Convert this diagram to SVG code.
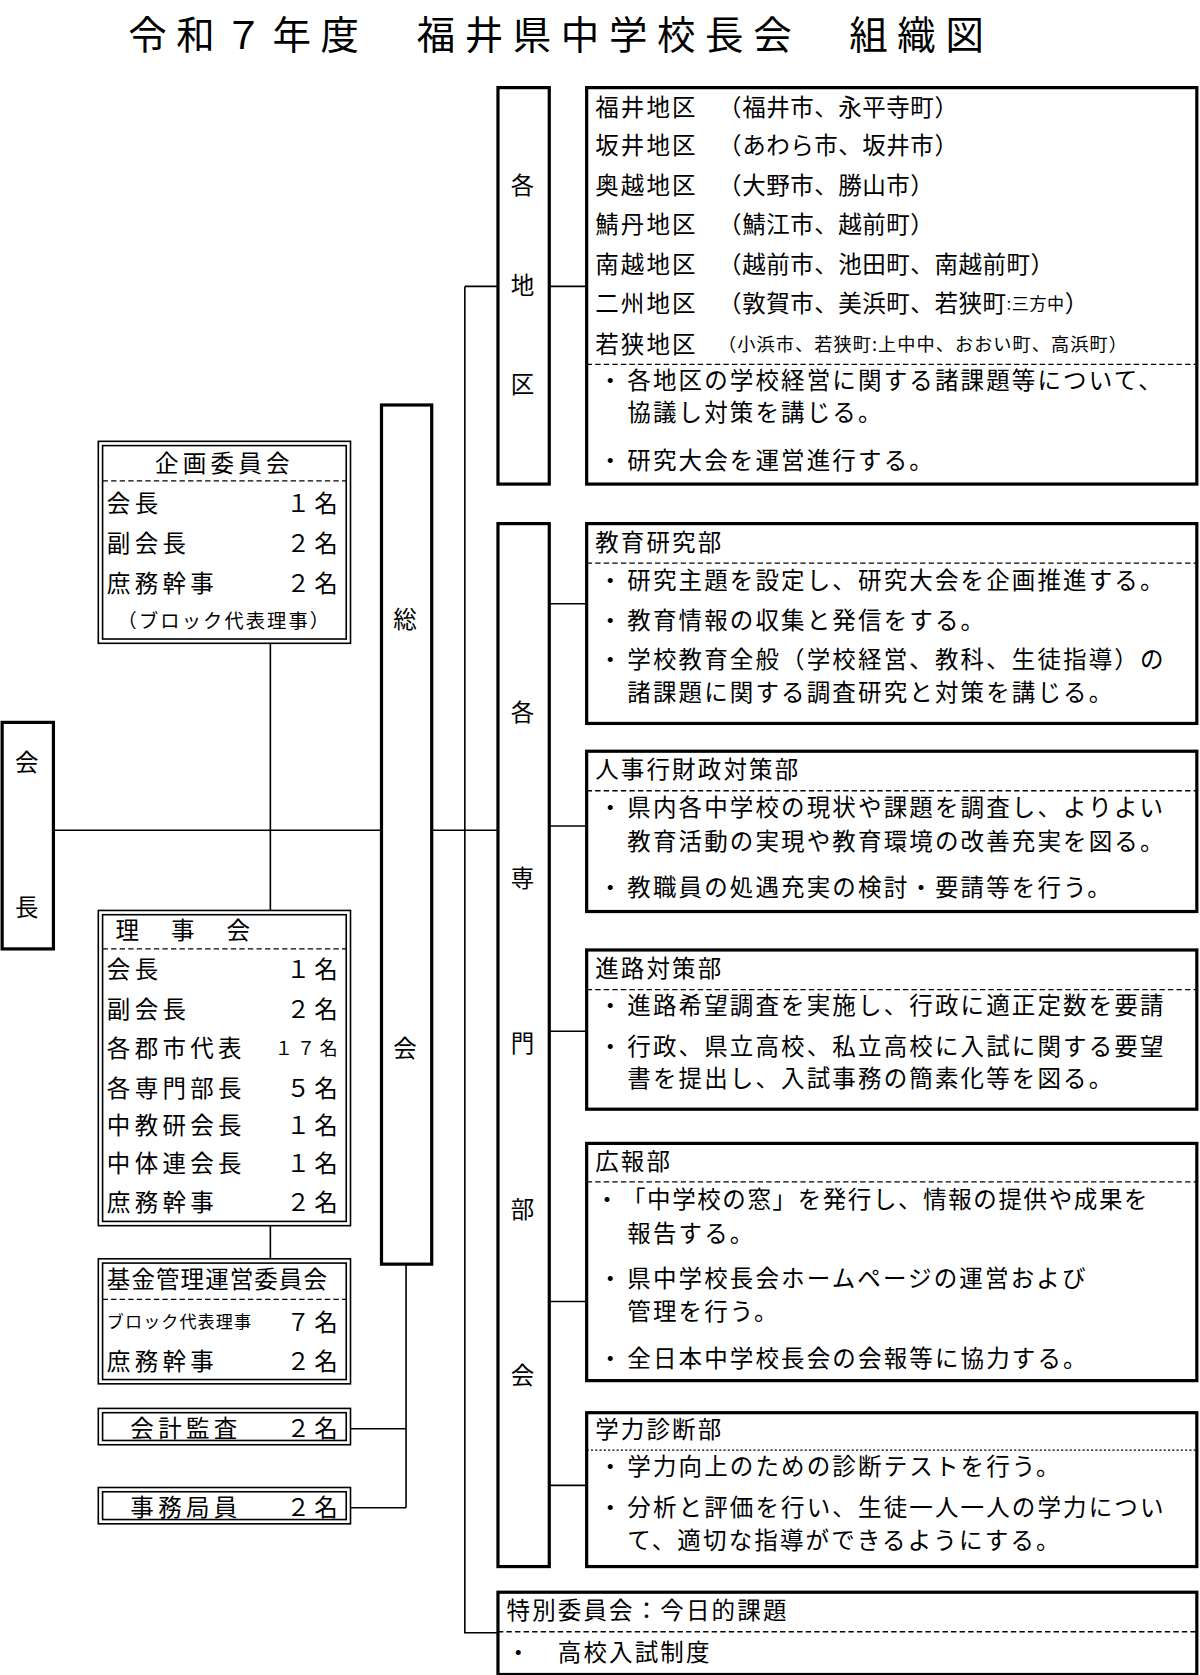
<svg xmlns="http://www.w3.org/2000/svg" width="1200" height="1675" viewBox="0 0 1200 1675">
<style>
text{font-family:"Noto Sans CJK JP","Noto Sans CJK SC",sans-serif;font-size:22px;fill:#000;dominant-baseline:central;letter-spacing:2px}
.k text{letter-spacing:4px}
.b{fill:#fff;stroke:#000;stroke-width:3}
.d{fill:#fff;stroke:#000;stroke-width:1.5}
.ds{stroke:#000;stroke-width:1.2;stroke-dasharray:5,3;fill:none}
.l{stroke:#000;stroke-width:1.5;fill:none}
.m{text-anchor:middle}
.s{font-size:16px}
.r{letter-spacing:0.5px}
</style>
<rect width="1200" height="1675" fill="#fff"/>
<g transform="scale(1.0686)">
<text x="120" y="30" style="font-size:36px;letter-spacing:9px">令和７年度　福井県中学校長会　組織図</text>
<g id="connectors">
<path class="l" d="M50 777H357M253 602V852M253 1147V1178M404 777H466M435 268V1528H466M435 268H466M328 1337H380M328 1411H380M380 1183V1411M514 268H549M514 565H549M514 773H549M514 965H549M514 1218H549M514 1390H549"/>
</g>
<g id="kaicho"><rect class="b" x="2" y="676" width="48" height="212"/><text x="26" y="712" class="m">会</text><text x="26" y="848" class="m">長</text></g>
<g id="kikaku" class="k"><rect class="d" x="92" y="413" width="236" height="189"/><rect class="d" x="96" y="417" width="228" height="181"/><text x="210" y="432" class="m">企画委員会</text><line class="ds" x1="96" y1="450" x2="324" y2="450"/>
<text x="100" y="470">会長</text><text x="320" y="470" text-anchor="end">１名</text>
<text x="100" y="507">副会長</text><text x="320" y="507" text-anchor="end">２名</text>
<text x="100" y="545">庶務幹事</text><text x="320" y="545" text-anchor="end">２名</text>
<text x="210" y="580" class="m" style="font-size:18px;letter-spacing:2px">（ブロック代表理事）</text></g>
<g id="rijikai" class="k"><rect class="d" x="92" y="852" width="236" height="295"/><rect class="d" x="96" y="856" width="228" height="287"/><text x="108" y="869">理　事　会</text><line class="ds" x1="96" y1="888" x2="324" y2="888"/>
<text x="100" y="906">会長</text><text x="320" y="906" text-anchor="end">１名</text>
<text x="100" y="943">副会長</text><text x="320" y="943" text-anchor="end">２名</text>
<text x="100" y="980">各郡市代表</text><text x="320" y="980" text-anchor="end" style="font-size:17px">１７名</text>
<text x="100" y="1017">各専門部長</text><text x="320" y="1017" text-anchor="end">５名</text>
<text x="100" y="1052">中教研会長</text><text x="320" y="1052" text-anchor="end">１名</text>
<text x="100" y="1087">中体連会長</text><text x="320" y="1087" text-anchor="end">１名</text>
<text x="100" y="1124">庶務幹事</text><text x="320" y="1124" text-anchor="end">２名</text></g>
<g id="kikin" class="k"><rect class="d" x="92" y="1178" width="236" height="117"/><rect class="d" x="96" y="1182" width="228" height="109"/><text x="100" y="1196" style="letter-spacing:1px">基金管理運営委員会</text><line class="ds" x1="96" y1="1216" x2="324" y2="1216"/>
<text x="100" y="1236" class="s" style="letter-spacing:1px">ブロック代表理事</text><text x="320" y="1236" text-anchor="end">７名</text>
<text x="100" y="1273">庶務幹事</text><text x="320" y="1273" text-anchor="end">２名</text></g>
<g id="kansa" class="k"><rect class="d" x="92" y="1318" width="236" height="34"/><rect class="d" x="96" y="1322" width="228" height="26"/><text x="122" y="1335">会計監査</text><text x="320" y="1335" text-anchor="end">２名</text></g>
<g id="jimu" class="k"><rect class="d" x="92" y="1392" width="236" height="34"/><rect class="d" x="96" y="1396" width="228" height="26"/><text x="122" y="1409">事務局員</text><text x="320" y="1409" text-anchor="end">２名</text></g>
<g id="sokai"><rect class="b" x="357" y="379" width="47" height="804"/><text x="380" y="578" class="m">総</text><text x="380" y="980" class="m">会</text></g>
<g id="kakuchiku"><rect class="b" x="466" y="82" width="48" height="371"/><text x="490" y="172" class="m">各</text><text x="490" y="266" class="m">地</text><text x="490" y="358" class="m">区</text></g>
<g id="senmon"><rect class="b" x="466" y="490" width="48" height="976"/><text x="490" y="665" class="m">各</text><text x="490" y="821" class="m">専</text><text x="490" y="975" class="m">門</text><text x="490" y="1130" class="m">部</text><text x="490" y="1286" class="m">会</text></g>
<g id="chiku"><rect class="b" x="549" y="82" width="571" height="371"/>
<text x="557" y="99">福井地区</text><text x="672" y="99" class="r">（福井市、永平寺町）</text>
<text x="557" y="135">坂井地区</text><text x="672" y="135" class="r">（あわら市、坂井市）</text>
<text x="557" y="172">奥越地区</text><text x="672" y="172" class="r">（大野市、勝山市）</text>
<text x="557" y="209">鯖丹地区</text><text x="672" y="209" class="r">（鯖江市、越前町）</text>
<text x="557" y="246">南越地区</text><text x="672" y="246" class="r">（越前市、池田町、南越前町）</text>
<text x="557" y="283">二州地区</text><text x="672" y="283" class="r">（敦賀市、美浜町、若狭町<tspan style="font-size:16px">:三方中</tspan>）</text>
<text x="557" y="321">若狭地区</text><text x="672" y="321" style="font-size:17px;letter-spacing:1px">（小浜市、若狭町:上中中、おおい町、高浜町）</text>
<line class="ds" x1="549" y1="341" x2="1120" y2="341"/>
<text x="560" y="355">・</text><text x="587" y="355">各地区の学校経営に関する諸課題等について、</text><text x="587" y="385">協議し対策を講じる。</text>
<text x="560" y="430">・</text><text x="587" y="430">研究大会を運営進行する。</text></g>
<g id="kyoiku"><rect class="b" x="549" y="490" width="571" height="187"/><text x="557" y="506">教育研究部</text><line class="ds" x1="549" y1="527" x2="1120" y2="527"/>
<text x="560" y="542">・</text><text x="587" y="542">研究主題を設定し、研究大会を企画推進する。</text>
<text x="560" y="579">・</text><text x="587" y="579">教育情報の収集と発信をする。</text>
<text x="560" y="616">・</text><text x="587" y="616">学校教育全般（学校経営、教科、生徒指導）の</text><text x="587" y="647">諸課題に関する調査研究と対策を講じる。</text></g>
<g id="jinji"><rect class="b" x="549" y="703" width="571" height="150"/><text x="557" y="719">人事行財政対策部</text><line class="ds" x1="549" y1="740" x2="1120" y2="740"/>
<text x="560" y="754">・</text><text x="587" y="754">県内各中学校の現状や課題を調査し、よりよい</text><text x="587" y="786">教育活動の実現や教育環境の改善充実を図る。</text>
<text x="560" y="829">・</text><text x="587" y="829">教職員の処遇充実の検討・要請等を行う。</text></g>
<g id="shinro"><rect class="b" x="549" y="889" width="571" height="149"/><text x="557" y="905">進路対策部</text><line class="ds" x1="549" y1="926" x2="1120" y2="926"/>
<text x="560" y="940">・</text><text x="587" y="940">進路希望調査を実施し、行政に適正定数を要請</text>
<text x="560" y="978">・</text><text x="587" y="978">行政、県立高校、私立高校に入試に関する要望</text><text x="587" y="1008">書を提出し、入試事務の簡素化等を図る。</text></g>
<g id="koho"><rect class="b" x="549" y="1070" width="571" height="222"/><text x="557" y="1086">広報部</text><line class="ds" x1="549" y1="1106" x2="1120" y2="1106"/>
<text x="557" y="1121">・</text><text x="582" y="1121" style="letter-spacing:1.5px">「中学校の窓」を発行し、情報の提供や成果を</text><text x="587" y="1153">報告する。</text>
<text x="560" y="1195">・</text><text x="587" y="1195">県中学校長会ホームページの運営および</text><text x="587" y="1226">管理を行う。</text>
<text x="560" y="1270">・</text><text x="587" y="1270">全日本中学校長会の会報等に協力する。</text></g>
<g id="gakuryoku"><rect class="b" x="549" y="1322" width="571" height="144"/><text x="557" y="1336">学力診断部</text><line class="ds" x1="549" y1="1357" x2="1120" y2="1357" style="stroke-dasharray:2,2"/>
<text x="560" y="1371">・</text><text x="587" y="1371">学力向上のための診断テストを行う。</text>
<text x="560" y="1409">・</text><text x="587" y="1409">分析と評価を行い、生徒一人一人の学力につい</text><text x="587" y="1440">て、適切な指導ができるようにする。</text></g>
<g id="tokubetsu"><rect class="b" x="466" y="1490" width="654" height="77"/><text x="474" y="1506">特別委員会：今日的課題</text><line class="ds" x1="466" y1="1527" x2="1120" y2="1527"/>
<text x="474" y="1545">・　高校入試制度</text></g>
</g>
</svg>
